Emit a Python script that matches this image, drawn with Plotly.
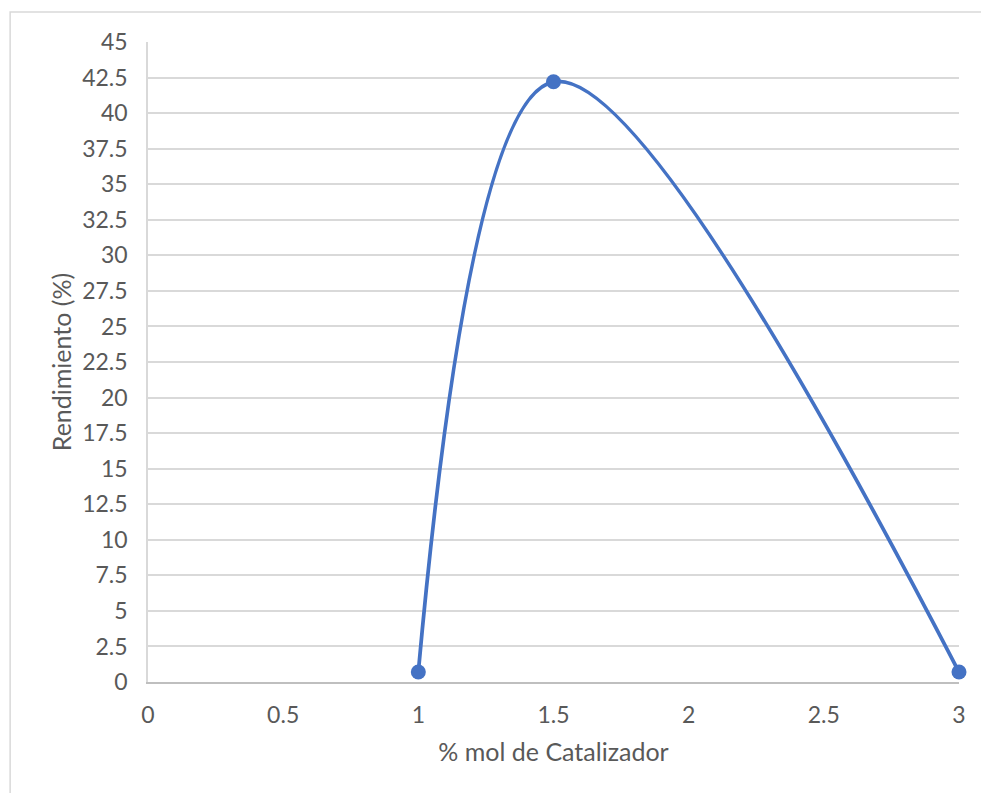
import plotly.graph_objects as go

# Yield vs catalyst loading
catalizador = [1, 1.5, 3]
rendimiento = [0.7, 42.2, 0.7]

x_ticks = [0, 0.5, 1, 1.5, 2, 2.5, 3]
y_ticks = [0, 2.5, 5, 7.5, 10, 12.5, 15, 17.5, 20, 22.5, 25, 27.5, 30,
           32.5, 35, 37.5, 40, 42.5, 45]

BLUE = "#4472C4"
GRID = "#D9D9D9"
TEXT = "#595959"
FONT = "Lato"

fig = go.Figure()
fig.add_trace(go.Scatter(
    x=catalizador, y=rendimiento,
    mode="lines+markers",
    line=dict(color=BLUE, width=3.75, shape="spline", smoothing=1),
    marker=dict(color=BLUE, size=15),
    cliponaxis=False,
    showlegend=False,
))

fig.update_layout(
    width=981, height=793,
    margin=dict(l=148, r=22, t=42, b=111),
    paper_bgcolor="white", plot_bgcolor="white",
    font=dict(family=FONT, color=TEXT, size=23),
    xaxis=dict(
        range=[0, 3], tickvals=x_ticks, ticktext=[f"{v:g}" for v in x_ticks],
        showgrid=False, zeroline=False,
        showline=True, linecolor="#BFBFBF", linewidth=1.5,
        ticks="", ticklabelstandoff=12,
        title=dict(text="% mol de Catalizador", font=dict(size=25, color=TEXT),
                   standoff=16),
    ),
    yaxis=dict(
        range=[0, 45], tickvals=y_ticks, ticktext=[f"{v:g}" for v in y_ticks],
        showgrid=True, gridcolor=GRID, gridwidth=1.5, zeroline=False,
        showline=True, linecolor=GRID, linewidth=1.5,
        ticks="", ticklabelstandoff=14,
        title=dict(text="Rendimiento (%)", font=dict(size=25, color=TEXT),
                   standoff=3),
    ),
    shapes=[dict(
        type="rect", xref="paper", yref="paper",
        x0=-0.170, x1=1.2, y0=-0.3, y1=1.047,
        line=dict(color=GRID, width=1.5), fillcolor="rgba(0,0,0,0)",
        layer="below",
    )],
)

fig.write_html("out.html")
